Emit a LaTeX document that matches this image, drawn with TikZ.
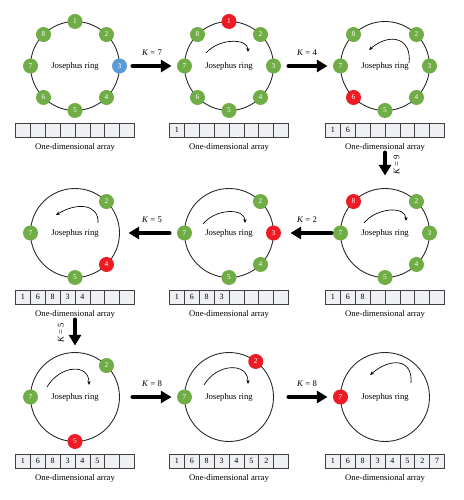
\documentclass[tikz,border=0pt]{standalone}
\usepackage{fontspec}
\setmainfont{Liberation Serif}
\usetikzlibrary{arrows.meta}

\definecolor{ballgreen}{RGB}{112,173,71}
\definecolor{ballred}{RGB}{237,28,36}
\definecolor{ballblue}{RGB}{91,155,213}
\definecolor{cellgray}{RGB}{238,240,243}

\tikzset{
  ring/.style={draw=black!85, line width=0.65pt, circle, minimum size=66.75pt, inner sep=0pt, font=\fontsize{6.5}{7}\selectfont},
  ball/.style={circle, fill=ballgreen, text=white, minimum size=11.25pt, inner sep=0pt, font=\fontsize{5.5}{6}\selectfont},
  outball/.style={ball, fill=ballred},
  curball/.style={ball, fill=ballblue},
  cell/.style={draw=black!75, line width=0.5pt, fill=cellgray, minimum width=11.2pt, minimum height=10.5pt, inner sep=0pt, outer sep=0pt, font=\fontsize{6}{7}\selectfont},
  arraylabel/.style={font=\fontsize{6.5}{7}\selectfont, inner sep=1pt},
  bigarrow/.style={line width=3pt, line cap=round, -{Triangle[length=8pt,width=9pt]}},
  spin/.style={line width=0.5pt, -{Stealth[length=3pt,width=2.5pt]}},
  klabel/.style={font=\fontsize{6.5}{7}\selectfont, inner sep=1pt},
}

\begin{document}
\begin{tikzpicture}[x=0.75pt, y=0.75pt]
  \useasboundingbox (0,0) rectangle (464,500);
  % row 1
  \begin{scope}[shift={(75,434)}]
    \node[ring] (r1) at (0,0) {Josephus ring};
    \node[ball] (r1-1) at (90:44.5) {1};
    \node[ball] (r1-2) at (45:44.5) {2};
    \node[curball] (r1-3) at (0:44.5) {3};
    \node[ball] (r1-4) at (-45:44.5) {4};
    \node[ball] (r1-5) at (-90:44.5) {5};
    \node[ball] (r1-6) at (-135:44.5) {6};
    \node[ball] (r1-7) at (180:44.5) {7};
    \node[ball] (r1-8) at (135:44.5) {8};
    \foreach \v [count=\i] in {{},{},{},{},{},{},{},{}}
      \node[cell] (a1-\i) at ({14.9*(\i-4.5)},-64) {\v};
    \node[arraylabel] (l1) at (0,-81) {One-dimensional array};
  \end{scope}
  \begin{scope}[shift={(229,434)}]
    \node[ring] (r2) at (0,0) {Josephus ring};
    \node[outball] (r2-1) at (90:44.5) {1};
    \node[ball] (r2-2) at (45:44.5) {2};
    \node[ball] (r2-3) at (0:44.5) {3};
    \node[ball] (r2-4) at (-45:44.5) {4};
    \node[ball] (r2-5) at (-90:44.5) {5};
    \node[ball] (r2-6) at (-135:44.5) {6};
    \node[ball] (r2-7) at (180:44.5) {7};
    \node[ball] (r2-8) at (135:44.5) {8};
    \draw[spin] (-23,13) .. controls (-10,28) and (19,28) .. (19,14);
    \foreach \v [count=\i] in {1,{},{},{},{},{},{},{}}
      \node[cell] (a2-\i) at ({14.9*(\i-4.5)},-64) {\v};
    \node[arraylabel] (l2) at (0,-81) {One-dimensional array};
  \end{scope}
  \begin{scope}[shift={(385,434)}]
    \node[ring] (r3) at (0,0) {Josephus ring};
    \node[ball] (r3-2) at (45:44.5) {2};
    \node[ball] (r3-3) at (0:44.5) {3};
    \node[ball] (r3-4) at (-45:44.5) {4};
    \node[ball] (r3-5) at (-90:44.5) {5};
    \node[outball] (r3-6) at (-135:44.5) {6};
    \node[ball] (r3-7) at (180:44.5) {7};
    \node[ball] (r3-8) at (135:44.5) {8};
    \draw[spin] (24,3) .. controls (27,28) and (5,34) .. (-16,16);
    \foreach \v [count=\i] in {1,6,{},{},{},{},{},{}}
      \node[cell] (a3-\i) at ({14.9*(\i-4.5)},-64) {\v};
    \node[arraylabel] (l3) at (0,-81) {One-dimensional array};
  \end{scope}
  % row 2
  \begin{scope}[shift={(385,267)}]
    \node[ring] (r4) at (0,0) {Josephus ring};
    \node[ball] (r4-2) at (45:44.5) {2};
    \node[ball] (r4-3) at (0:44.5) {3};
    \node[ball] (r4-4) at (-45:44.5) {4};
    \node[ball] (r4-5) at (-90:44.5) {5};
    \node[ball] (r4-7) at (180:44.5) {7};
    \node[outball] (r4-8) at (135:44.5) {8};
    \draw[spin] (-21,10) .. controls (-8,26) and (21,27) .. (21,12);
    \foreach \v [count=\i] in {1,6,8,{},{},{},{},{}}
      \node[cell] (a4-\i) at ({14.9*(\i-4.5)},-64) {\v};
    \node[arraylabel] (l4) at (0,-81) {One-dimensional array};
  \end{scope}
  \begin{scope}[shift={(229,267)}]
    \node[ring] (r5) at (0,0) {Josephus ring};
    \node[ball] (r5-2) at (45:44.5) {2};
    \node[outball] (r5-3) at (0:44.5) {3};
    \node[ball] (r5-4) at (-45:44.5) {4};
    \node[ball] (r5-5) at (-90:44.5) {5};
    \node[ball] (r5-7) at (180:44.5) {7};
    \draw[spin] (-26,9) .. controls (-13,25) and (16,25) .. (16,10);
    \foreach \v [count=\i] in {1,6,8,3,{},{},{},{}}
      \node[cell] (a5-\i) at ({14.9*(\i-4.5)},-64) {\v};
    \node[arraylabel] (l5) at (0,-81) {One-dimensional array};
  \end{scope}
  \begin{scope}[shift={(75,267)}]
    \node[ring] (r6) at (0,0) {Josephus ring};
    \node[ball] (r6-2) at (45:44.5) {2};
    \node[outball] (r6-4) at (-45:44.5) {4};
    \node[ball] (r6-5) at (-90:44.5) {5};
    \node[ball] (r6-7) at (180:44.5) {7};
    \draw[spin] (23,10) .. controls (24,29) and (2,31) .. (-19,18);
    \foreach \v [count=\i] in {1,6,8,3,4,{},{},{}}
      \node[cell] (a6-\i) at ({14.9*(\i-4.5)},-64) {\v};
    \node[arraylabel] (l6) at (0,-81) {One-dimensional array};
  \end{scope}
  % row 3
  \begin{scope}[shift={(75,103)}]
    \node[ring] (r7) at (0,0) {Josephus ring};
    \node[ball] (r7-2) at (45:44.5) {2};
    \node[outball] (r7-5) at (-90:44.5) {5};
    \node[ball] (r7-7) at (180:44.5) {7};
    \draw[spin] (-28,10) .. controls (-15,32) and (14,34) .. (14,12);
    \foreach \v [count=\i] in {1,6,8,3,4,5,{},{}}
      \node[cell] (a7-\i) at ({14.9*(\i-4.5)},-64) {\v};
    \node[arraylabel] (l7) at (0,-81) {One-dimensional array};
  \end{scope}
  \begin{scope}[shift={(229,103)}]
    \node[ring] (r8) at (0,0) {Josephus ring};
    \node[outball] (r8-2) at (53:44.5) {2};
    \node[ball] (r8-7) at (180:44.5) {7};
    \draw[spin] (-25,12) .. controls (-12,34) and (19,35) .. (19,13);
    \foreach \v [count=\i] in {1,6,8,3,4,5,2,{}}
      \node[cell] (a8-\i) at ({14.9*(\i-4.5)},-64) {\v};
    \node[arraylabel] (l8) at (0,-81) {One-dimensional array};
  \end{scope}
  \begin{scope}[shift={(385,103)}]
    \node[ring] (r9) at (0,0) {Josephus ring};
    \node[outball] (r9-7) at (180:44.5) {7};
    \draw[spin] (26,14) .. controls (28,38) and (6,40) .. (-15,22);
    \foreach \v [count=\i] in {1,6,8,3,4,5,2,7}
      \node[cell] (a9-\i) at ({14.9*(\i-4.5)},-64) {\v};
    \node[arraylabel] (l9) at (0,-81) {One-dimensional array};
  \end{scope}
  % steps
  \draw[bigarrow, shorten <=9.4pt, shorten >=9.4pt] (r1) -- (r2)
    node[klabel, midway, above=5pt] {\textit{K} = 7};
  \draw[bigarrow, shorten <=10.9pt, shorten >=9.4pt] (r2) -- (r3)
    node[klabel, midway, above=5pt] {\textit{K} = 4};
  \draw[bigarrow, shorten >=9.4pt] (l3) -- (r4)
    node[klabel, pos=0.35, rotate=90, anchor=north, inner sep=5pt] {\textit{K} = 9};
  \draw[bigarrow, shorten <=6.4pt, shorten >=12.4pt] (r4) -- (r5)
    node[klabel, midway, above=5pt] {\textit{K} = 2};
  \draw[bigarrow, shorten <=10.9pt, shorten >=6.4pt] (r5) -- (r6)
    node[klabel, midway, above=5pt] {\textit{K} = 5};
  \draw[bigarrow, shorten >=4.9pt] (l6) -- (r7)
    node[klabel, pos=0.4, rotate=90, anchor=south, inner sep=7pt] {\textit{K} = 5};
  \draw[bigarrow, shorten <=9.4pt, shorten >=9.4pt] (r7) -- (r8)
    node[klabel, midway, above=5pt] {\textit{K} = 8};
  \draw[bigarrow, shorten <=10.9pt, shorten >=9.4pt] (r8) -- (r9)
    node[klabel, midway, above=5pt] {\textit{K} = 8};
\end{tikzpicture}
\end{document}
